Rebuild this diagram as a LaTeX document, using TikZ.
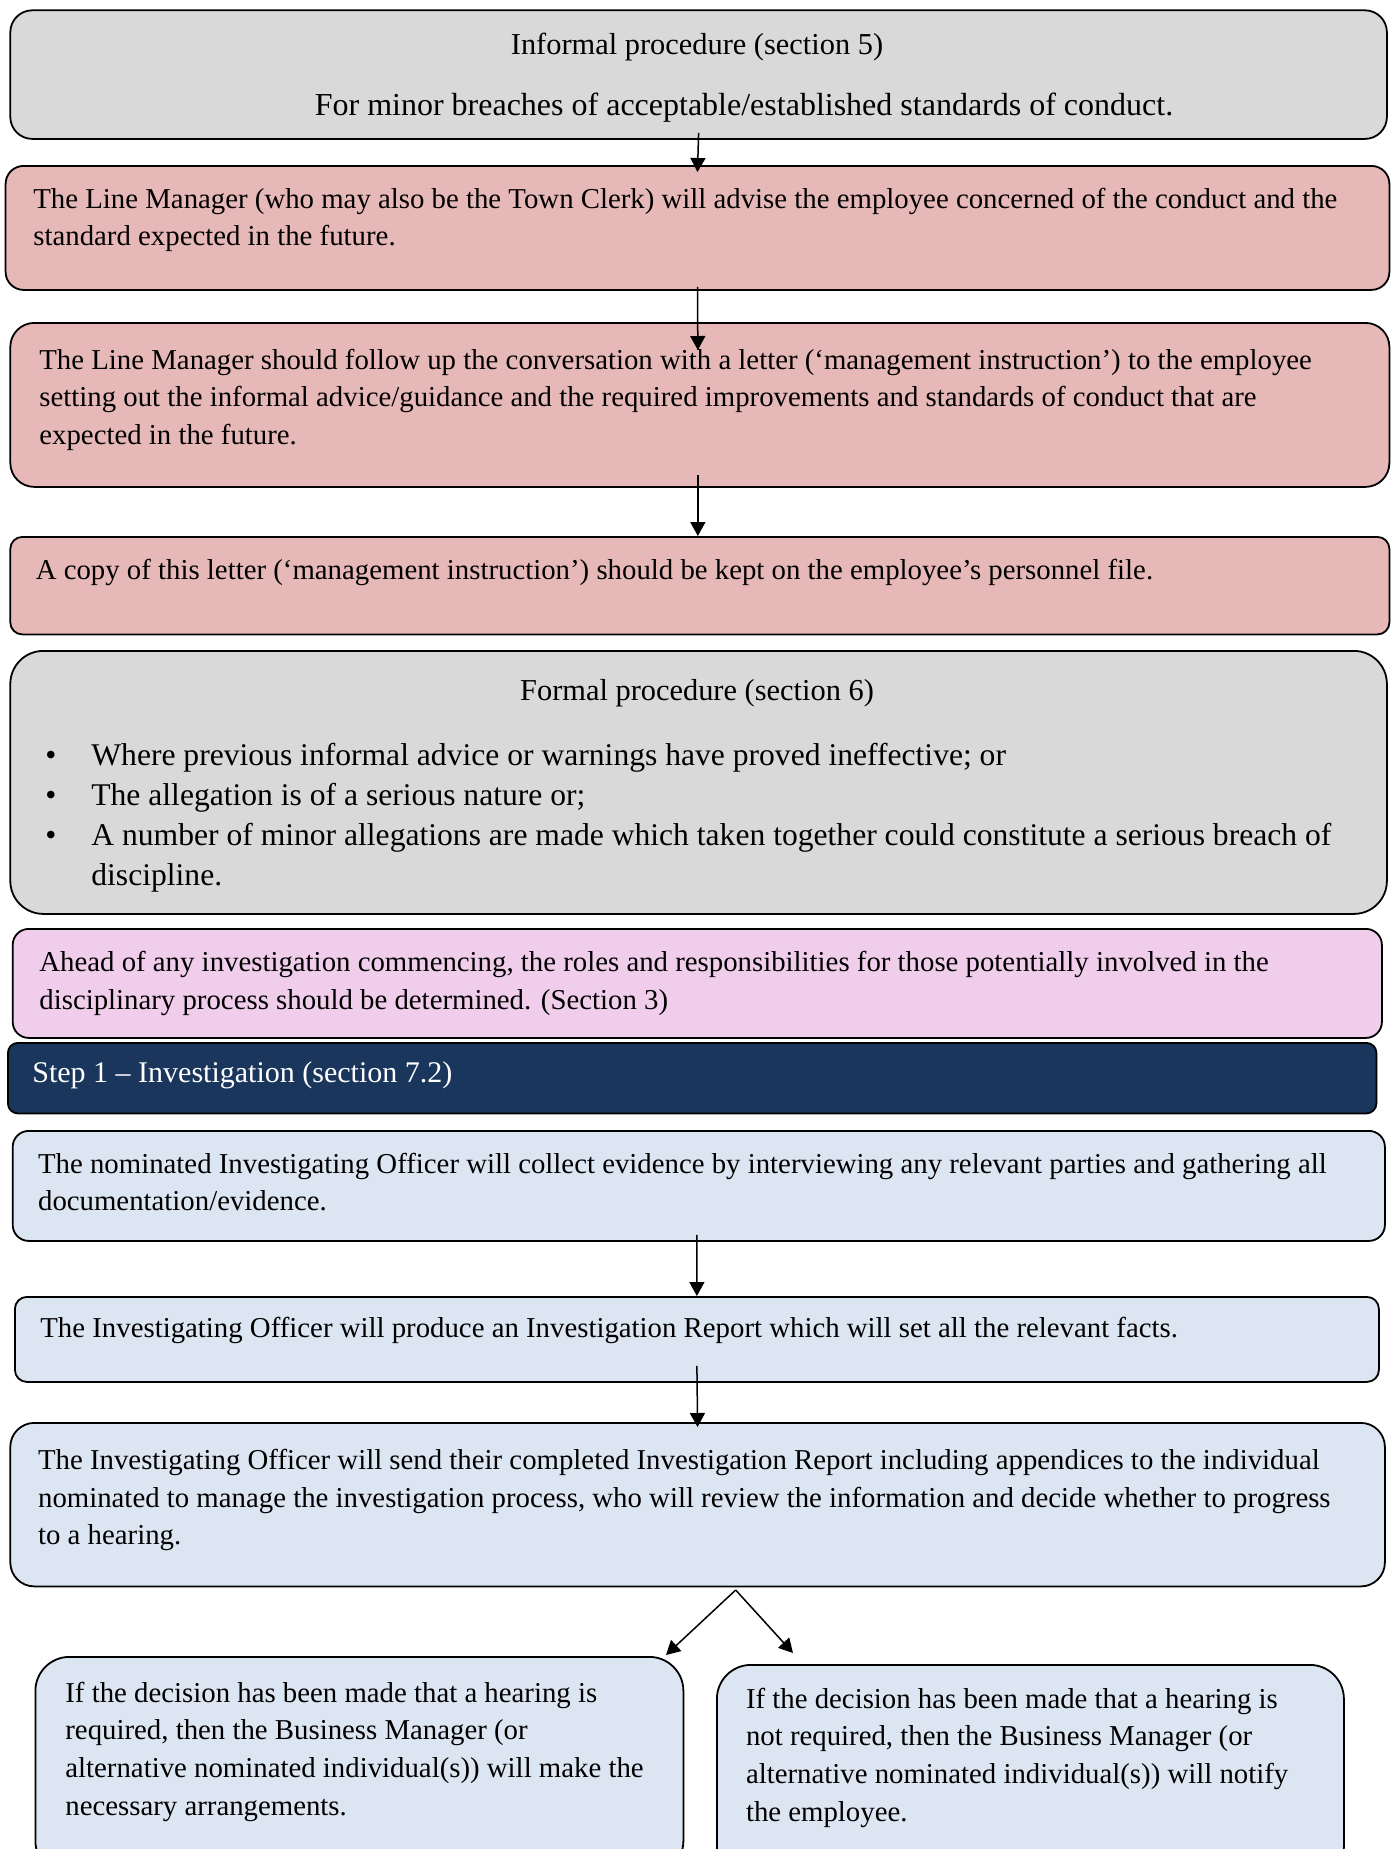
\documentclass[tikz,border=0pt]{standalone}
\usepackage{fontspec}
\setmainfont{Liberation Serif}
\usetikzlibrary{arrows.meta}

\definecolor{greyfill}{HTML}{D9D9D9}
\definecolor{pinkfill}{HTML}{E6B8B7}
\definecolor{lilacfill}{HTML}{F0CDEB}
\definecolor{navyfill}{HTML}{1A365D}
\definecolor{bluefill}{HTML}{DCE6F2}

\newcommand{\blt}{\makebox[23pt][l]{\textbullet}}

\begin{document}
\begin{tikzpicture}[x=0.5pt,y=-0.5pt,
    box/.style={draw=black,line width=0.9pt,inner sep=0pt,anchor=north west},
    txt/.style={inner sep=0pt,anchor=base west,align=left,font=\fontsize{14.4}{18.85}\selectfont},
    ttl/.style={inner sep=0pt,anchor=base,font=\fontsize{15.2}{18.85}\selectfont},
    arr/.style={line width=0.75pt,-{Triangle[length=7pt,width=7.5pt]}}]
        \useasboundingbox (0,0) rectangle (1392,1849);
        \clip (0,0) rectangle (1392,1849);
        % boxes
        \node[box,fill=greyfill,rounded corners=11pt,minimum width=688.3pt,minimum height=64.3pt] (b1) at (9.4,9.4) {};
        \node[box,fill=pinkfill,rounded corners=9pt,minimum width=691.9pt,minimum height=62pt] (b2) at (4.7,165) {};
        \node[box,fill=pinkfill,rounded corners=12pt,minimum width=689.55pt,minimum height=82pt] (b3) at (9.4,322) {};
        \node[box,fill=pinkfill,rounded corners=6pt,minimum width=689.55pt,minimum height=48.75pt] (b4) at (9.4,536) {};
        \node[box,fill=greyfill,rounded corners=16.5pt,minimum width=688.3pt,minimum height=131.5pt] (b5) at (9.4,650) {};
        \node[box,fill=lilacfill,rounded corners=8pt,minimum width=684.6pt,minimum height=54.5pt] (b6) at (11.8,928) {};
        \node[box,fill=navyfill,rounded corners=5pt,minimum width=684.25pt,minimum height=35.25pt] (b7) at (7,1042) {};
        \node[box,fill=bluefill,rounded corners=8pt,minimum width=686.1pt,minimum height=55pt] (b8) at (11.8,1130) {};
        \node[box,fill=bluefill,rounded corners=6pt,minimum width=682pt,minimum height=42.5pt] (b9) at (14,1296) {};
        \node[box,fill=bluefill,rounded corners=12pt,minimum width=687.3pt,minimum height=81.75pt] (b10) at (9.4,1422) {};
        \node[box,fill=bluefill,rounded corners=17pt,minimum width=324pt,minimum height=109pt] (b11) at (34.5,1656) {};
        \node[box,fill=bluefill,rounded corners=17pt,minimum width=313.5pt,minimum height=108pt] (b12) at (716,1664) {};
        % texts (multi-line nodes sit on their last baseline)
        \node[ttl] (t1a) at (697,54) {Informal procedure (section 5)};
        \node[ttl,font=\fontsize{16}{18.85}\selectfont] (t1b) at (744,115) {For minor breaches of acceptable/established standards of conduct.};
        \node[txt] (t2) at (33,245.7) {The Line Manager (who may also be the Town Clerk) will advise the employee concerned of the conduct and the\\standard expected in the future.};
        \node[txt] (t3) at (39,444.4) {The Line Manager should follow up the conversation with a letter (‘management instruction’) to the employee\\setting out the informal advice/guidance and the required improvements and standards of conduct that are\\expected in the future.};
        \node[txt] (t4) at (35.4,579) {A copy of this letter (‘management instruction’) should be kept on the employee’s personnel file.};
        \node[ttl] (t5a) at (697,700) {Formal procedure (section 6)};
        \node[txt,font=\fontsize{15.8}{20}\selectfont] (t5b) at (45,885) {\blt Where previous informal advice or warnings have proved ineffective; or\\\blt The allegation is of a serious nature or;\\\blt A number of minor allegations are made which taken together could constitute a serious breach of\\\hspace*{23pt}discipline.};
        \node[txt] (t6) at (39,1009.3) {Ahead of any investigation commencing, the roles and responsibilities for those potentially involved in the\\disciplinary process should be determined. (Section 3)};
        \node[txt,text=white,font=\fontsize{15}{18.85}\selectfont] (t7) at (32,1082.5) {Step 1 – Investigation (section 7.2)};
        \node[txt] (t8) at (37.7,1210.7) {The nominated Investigating Officer will collect evidence by interviewing any relevant parties and gathering all\\documentation/evidence.};
        \node[txt] (t9) at (40,1337) {The Investigating Officer will produce an Investigation Report which will set all the relevant facts.};
        \node[txt] (t10) at (37.7,1544.9) {The Investigating Officer will send their completed Investigation Report including appendices to the individual\\nominated to manage the investigation process, who will review the information and decide whether to progress\\to a hearing.};
        \node[txt] (t11) at (65,1815.1) {If the decision has been made that a hearing is\\required, then the Business Manager (or\\alternative nominated individual(s)) will make the\\necessary arrangements.};
        \node[txt] (t12) at (745.6,1821.1) {If the decision has been made that a hearing is\\not required, then the Business Manager (or\\alternative nominated individual(s)) will notify\\the employee.};
        % arrows
        \draw[arr] ([yshift=3.5pt]b1.south) -- ([yshift=-3.5pt]b2.north);
        \draw[arr] ([yshift=2pt]b2.south) -- ([yshift=-14pt,xshift=-1pt]b3.north);
        \draw[arr] ([yshift=6.5pt,xshift=-1pt]b3.south) -- ([xshift=-1pt]b4.north);
        \draw[arr] ([yshift=3.5pt,xshift=-1pt]b8.south) -- (b9.north);
        \draw[arr] ([yshift=8.5pt]b9.south) -- ([yshift=-2.5pt]b10.north);
        \coordinate (fork) at (735.7,1590);
        \coordinate (yes) at (666,1655);
        \coordinate (no) at (793,1653);
        \draw[arr] (fork) -- (yes);
        \draw[arr] (fork) -- (no);
    \end{tikzpicture}
\end{document}
